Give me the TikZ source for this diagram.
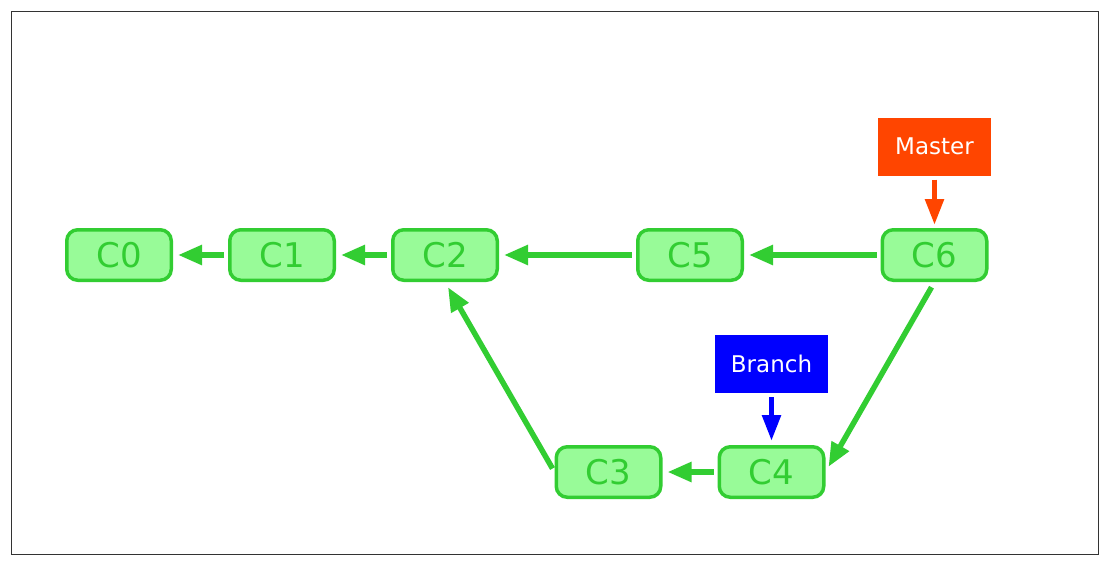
\documentclass[tikz,border=0pt]{standalone}
\usepackage{fontspec}
\setmainfont{DejaVu Sans}
\usetikzlibrary{arrows.meta}
\definecolor{lgreen}{HTML}{32CD32}
\definecolor{pgreen}{HTML}{98FB98}
\definecolor{ored}{HTML}{FF4500}
\definecolor{pblue}{HTML}{0000FF}
\definecolor{frame}{HTML}{333333}
\tikzset{
  commit/.style={draw=lgreen, fill=pgreen, line width=3.5pt, rounded corners=11pt,
    minimum width=104.5pt, minimum height=50.5pt, inner sep=0pt, text=lgreen,
    font=\fontsize{34}{34}\selectfont},
  label box/.style={minimum width=113pt, minimum height=58pt, inner sep=0pt, text=white,
    font=\fontsize{23}{23}\selectfont},
  garrow/.style={draw=lgreen, line width=5.5pt, -{Triangle[length=24pt,width=19pt]}},
  parrow/.style={line width=5.5pt, -{Triangle[length=26pt,width=18pt]}}
}
\begin{document}
\begin{tikzpicture}[x=1pt,y=-1pt]
\useasboundingbox (0,0) rectangle (1108,565);
\draw[frame, line width=1pt] (11.5,11.5) rectangle (1098.5,554.5);
\node[commit] (c0) at (119,255) {C0};
\node[commit] (c1) at (282,255) {C1};
\node[commit] (c2) at (445,255) {C2};
\node[commit] (c5) at (690,255) {C5};
\node[commit] (c6) at (934.5,255) {C6};
\node[commit] (c3) at (608.5,472) {C3};
\node[commit] (c4) at (771.5,472) {C4};
\node[label box, fill=ored] (master) at (934.5,146.5) {Master};
\node[label box, fill=pblue] (branch) at (771.5,364) {Branch};
\draw[garrow, shorten <=4pt, shorten >=5pt] (c1.west) -- (c0.east);
\draw[garrow, shorten <=4pt, shorten >=5pt] (c2.west) -- (c1.east);
\draw[garrow, shorten <=4pt, shorten >=5pt] (c5.west) -- (c2.east);
\draw[garrow, shorten <=4pt, shorten >=5pt] (c6.west) -- (c5.east);
\draw[garrow, shorten <=4pt, shorten >=5pt] (c4.west) -- (c3.east);
\draw[garrow, shorten <=4pt, shorten >=6pt] (c3.west) -- (c2.south);
\draw[garrow, shorten <=6pt, shorten >=6pt] (c6.south) -- (c4.east);
\draw[parrow, ored, shorten <=4pt, shorten >=3pt] (master.south) -- (c6.north);
\draw[parrow, pblue, shorten <=4pt, shorten >=4pt] (branch.south) -- (c4.north);
\end{tikzpicture}
\end{document}
